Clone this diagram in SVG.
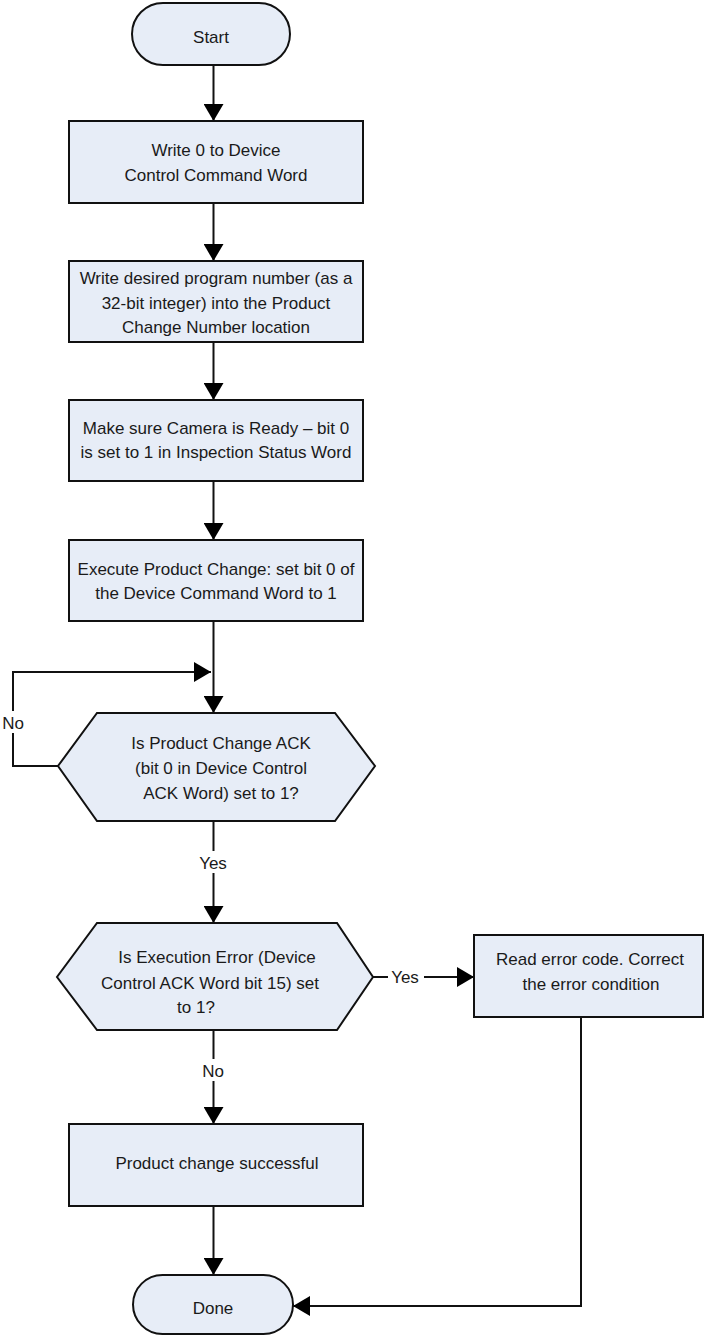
<svg xmlns="http://www.w3.org/2000/svg" width="705" height="1336" viewBox="0 0 705 1336">
<style>
.shape{fill:#E7EDF7;stroke:#111;stroke-width:2}
.t{font-family:"Liberation Sans",Arial,sans-serif;font-size:17px;fill:#1a1a1a;text-anchor:middle}
.c{fill:none;stroke:#111;stroke-width:2}
.bg{fill:#fff}
</style>
<defs>
<marker id="arr" viewBox="0 0 17 20" refX="17" refY="10" markerWidth="17" markerHeight="20" markerUnits="userSpaceOnUse" orient="auto">
<path d="M0,0 L17,10 L0,20 z" fill="#000"/>
</marker>
</defs>
<rect width="705" height="1336" fill="#fff"/>
<g id="connectors">
<line class="c" x1="213.5" y1="65" x2="213.5" y2="121" marker-end="url(#arr)"/>
<line class="c" x1="213.5" y1="203" x2="213.5" y2="261" marker-end="url(#arr)"/>
<line class="c" x1="213.5" y1="342" x2="213.5" y2="400" marker-end="url(#arr)"/>
<line class="c" x1="213.5" y1="481" x2="213.5" y2="540" marker-end="url(#arr)"/>
<line class="c" x1="213.5" y1="621" x2="213.5" y2="713" marker-end="url(#arr)"/>
<polyline class="c" points="58,766 13,766 13,672 211,672" marker-end="url(#arr)"/>
<line class="c" x1="213.5" y1="821" x2="213.5" y2="923" marker-end="url(#arr)"/>
<line class="c" x1="373" y1="977" x2="474" y2="977" marker-end="url(#arr)"/>
<line class="c" x1="213.5" y1="1030" x2="213.5" y2="1124" marker-end="url(#arr)"/>
<line class="c" x1="213.5" y1="1206" x2="213.5" y2="1275" marker-end="url(#arr)"/>
<polyline class="c" points="581,1017 581,1306 293,1306" marker-end="url(#arr)"/>
<rect class="bg" x="0" y="711" width="27" height="22"/>
<text class="t" x="13" y="729">No</text>
<rect class="bg" x="198" y="851" width="32" height="22"/>
<text class="t" x="213" y="869">Yes</text>
<rect class="bg" x="388" y="965" width="36" height="22"/>
<text class="t" x="405" y="983">Yes</text>
<rect class="bg" x="200" y="1059" width="28" height="22"/>
<text class="t" x="213" y="1077">No</text>
</g>
<g id="start">
<rect class="shape" x="132" y="3" width="158" height="62" rx="31"/>
<text class="t" x="211" y="43">Start</text>
</g>
<g id="write0">
<rect class="shape" x="69" y="121" width="294" height="82"/>
<text class="t" x="216" y="156">Write 0 to Device</text>
<text class="t" x="216" y="181">Control Command Word</text>
</g>
<g id="writeprog">
<rect class="shape" x="69" y="261" width="294" height="81"/>
<text class="t" x="216" y="284">Write desired program number (as a</text>
<text class="t" x="216" y="309">32-bit integer) into the Product</text>
<text class="t" x="216" y="333">Change Number location</text>
</g>
<g id="ready">
<rect class="shape" x="69" y="400" width="294" height="81"/>
<text class="t" x="216" y="434">Make sure Camera is Ready – bit 0</text>
<text class="t" x="216" y="458">is set to 1 in Inspection Status Word</text>
</g>
<g id="execute">
<rect class="shape" x="69" y="540" width="294" height="81"/>
<text class="t" x="216" y="575">Execute Product Change: set bit 0 of</text>
<text class="t" x="216" y="599">the Device Command Word to 1</text>
</g>
<g id="ackdecision">
<polygon class="shape" points="97,713 335,713 375,766 335,821 97,821 58,766"/>
<text class="t" x="221" y="749">Is Product Change ACK</text>
<text class="t" x="221" y="774">(bit 0 in Device Control</text>
<text class="t" x="221" y="799">ACK Word) set to 1?</text>
</g>
<g id="errdecision">
<polygon class="shape" points="97,923 337,923 373,977 337,1030 97,1030 57,977"/>
<text class="t" x="217" y="963">Is Execution Error (Device</text>
<text class="t" x="210" y="989">Control ACK Word bit 15) set</text>
<text class="t" x="196" y="1013">to 1?</text>
</g>
<g id="readerror">
<rect class="shape" x="474" y="935" width="229" height="82"/>
<text class="t" x="590" y="965">Read error code. Correct</text>
<text class="t" x="591" y="990">the error condition</text>
</g>
<g id="success">
<rect class="shape" x="69" y="1124" width="294" height="82"/>
<text class="t" x="217" y="1169">Product change successful</text>
</g>
<g id="done">
<rect class="shape" x="133" y="1275" width="160" height="59" rx="29.5"/>
<text class="t" x="213" y="1314">Done</text>
</g>
</svg>
